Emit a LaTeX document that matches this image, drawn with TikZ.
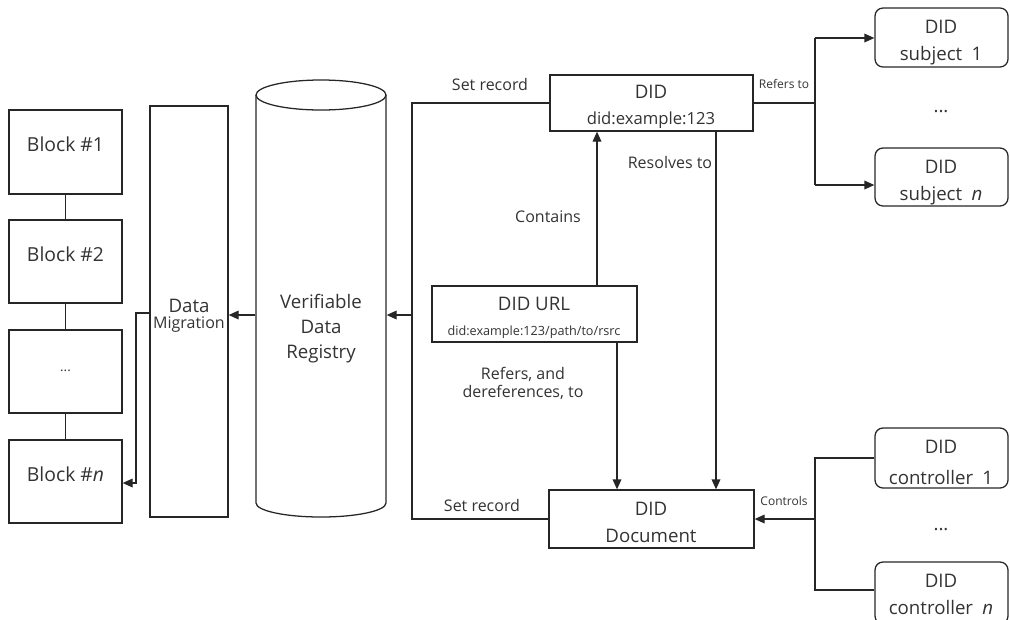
\documentclass[tikz,border=0pt]{standalone}
\usepackage{fontspec}
\setmainfont{Open Sans}
\usetikzlibrary{arrows.meta,fit}
\begin{document}
\begin{tikzpicture}[x=0.75pt,y=-0.75pt,line width=0.95pt,
  every node/.style={text=black!80},
  box/.style={draw=black!85, inner sep=0pt, align=center, font=\fontsize{14.5}{18}\selectfont},
  rbox/.style={box, rounded corners=6pt},
  big/.style={font=\fontsize{14}{18}\selectfont, inner sep=0pt, anchor=base},
  mid/.style={font=\fontsize{12}{15}\selectfont, inner sep=0pt, anchor=base},
  tiny/.style={font=\fontsize{9}{11}\selectfont, inner sep=0pt, anchor=base},
  conn/.style={draw=black!85},
  arr/.style={conn, -{Triangle[length=7.5pt,width=6.5pt]}},
]
\useasboundingbox (0,0) rectangle (1010,619);

% blocks
\node[box, fit={(9,110)(122,194)}] (b1) {Block \#1};
\node[box, fit={(9,220)(122,303)}] (b2) {Block \#2};
\node[box, fit={(9,330)(122,413)}] (b3) {{\fontsize{10}{12}\selectfont ...}};
\node[box, fit={(9,440)(122,523)}] (bn) {Block \#\textit{n}};
\draw[conn] (b1) -- (b2);
\draw[conn] (b2) -- (b3);
\draw[conn] (b3) -- (bn);

% data migration
\node[box, fit={(150,106)(228,517)}] (dm) {};
\node[big] (dmt1) at (189,312) {Data};
\node[mid] (dmt2) at (189,328) {Migration};

% cylinder
\draw[conn] (256,95) -- (256,503) arc[start angle=180, end angle=360, x radius=48.75pt, y radius=10.5pt] -- (386,95);
\draw[conn] (321,95) ellipse [x radius=48.75pt, y radius=11.25pt];
\node[inner sep=0pt, fit={(256,80)(386,517)}] (vdr) {};
\node[big] (vdr1) at (321,308) {Verifiable};
\node[big] (vdr2) at (321,333) {Data};
\node[big] (vdr3) at (321,358) {Registry};

% DID
\node[box, fit={(550,75)(753,131)}] (did) {};
\node[big] (didt1) at (651,98) {DID};
\node[big, font=\fontsize{12.5}{15}\selectfont] (didt2) at (651,124) {did:example:123};

% DID URL
\node[box, fit={(432,286)(637,342)}] (url) {};
\node[big] (urlt1) at (534,310) {DID URL};
\node[big, font=\fontsize{9.5}{11}\selectfont] (urlt2) at (534,335) {did:example:123/path/to/rsrc};

% DID Document
\node[box, fit={(549,490)(754,548)}] (doc) {};
\node[big] (doct1) at (651,515) {DID};
\node[big] (doct2) at (651,542) {Document};

% subjects
\node[rbox, fit={(875,8)(1008,67)}] (s1) {};
\node[big] (s1t1) at (941,33) {DID};
\node[big] (s1t2) at (941,60) {subject\enspace 1};
\node[big] (sdots) at (941,112) {...};
\node[rbox, fit={(875,148)(1008,206)}] (sn) {};
\node[big] (snt1) at (941,173) {DID};
\node[big] (snt2) at (941,200) {subject\enspace \textit{n}};

% controllers
\node[rbox, fit={(875,428)(1008,488)}] (c1) {};
\node[big] (c1t1) at (941,453) {DID};
\node[big] (c1t2) at (941,484) {controller\enspace 1};
\node[big] (cdots) at (941,530) {...};
\node[rbox, fit={(875,562)(1008,624)}] (cn) {};
\node[big] (cnt1) at (941,587) {DID};
\node[big] (cnt2) at (941,614) {controller\enspace \textit{n}};

% coordinates
\coordinate (loopx) at (412,315);
\coordinate (migx) at (136,313);
\coordinate (blkx) at (136,483);
\coordinate (cx) at (597,0);
\coordinate (rx) at (716,0);
\coordinate (fx) at (617,0);
\coordinate (sx) at (815,103);
\coordinate (sa) at (815,38);
\coordinate (sb) at (815,185);
\coordinate (ka) at (815,458);
\coordinate (kb) at (815,590);
\coordinate (kc) at (815,519);

% connectors
\draw[arr] (vdr.west |- 0,315) -- (dm.east |- 0,315);
\draw[arr] (dm.west |- migx) -- (migx) -- (blkx) -- (bn.east |- blkx);
\draw[conn] (did.west) -| (loopx) |- (doc.west);
\draw[arr] (loopx) -- (vdr.east |- loopx);
\draw[arr] (url.north -| cx) -- (did.south -| cx);
\draw[arr] (did.south -| rx) -- (doc.north -| rx);
\draw[arr] (url.south -| fx) -- (doc.north -| fx);
\draw[conn] (did.east |- sx) -- (sx);
\draw[conn] (sa) -- (sb);
\draw[arr] (sa) -- (s1.west |- sa);
\draw[arr] (sb) -- (sn.west |- sb);
\draw[conn] (c1.west |- ka) -- (ka) -- (kb) -- (cn.west |- kb);
\draw[arr] (kc) -- (doc.east |- kc);

% labels
\node[mid] (l1) at (490,90) {Set record};
\node[mid] (l2) at (482,511) {Set record};
\node[mid] (l3) at (548,222) {Contains};
\node[mid] (l4) at (670,168) {Resolves to};
\node[mid] (l5) at (523,379) {Refers, and};
\node[mid] (l6) at (523,397) {dereferences, to};
\node[tiny] (l7) at (784,88) {Refers to};
\node[tiny] (l8) at (784,505) {Controls};
\end{tikzpicture}
\end{document}
